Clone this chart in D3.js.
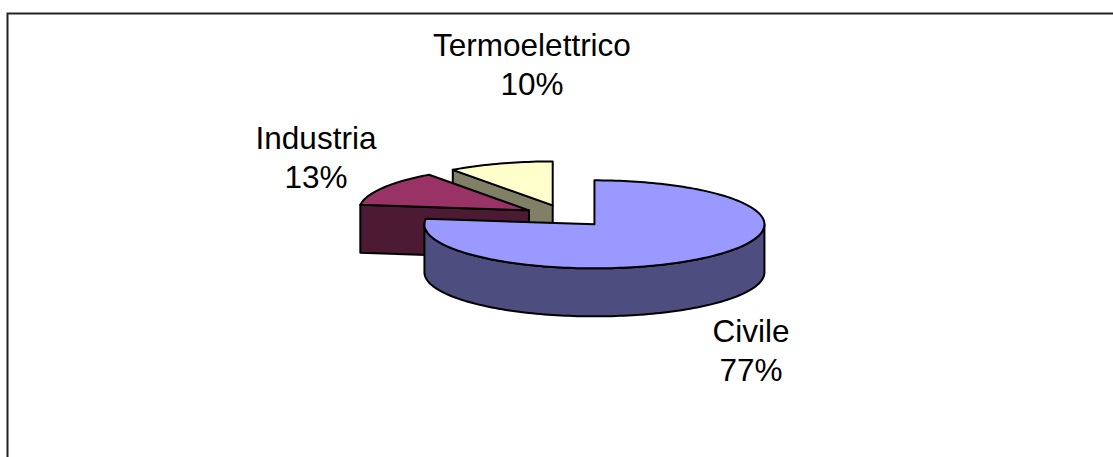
<!DOCTYPE html>
<html>
<head>
<meta charset="utf-8">
<script src="https://cdn.jsdelivr.net/npm/d3@7"></script>
<style>
html, body { margin: 0; padding: 0; background: #fff; }
svg { display: block; }
</style>
</head>
<body>
<div id="graph"></div>
<script>
// data
var categories = ["Civile", "Industria", "Termoelettrico"];
var shares = [77, 13, 10];
var topColors = ["#9999ff", "#993366", "#ffffcc"];
var wallColors = ["#4d4d80", "#4d1a33", "#808066"];

var width = 1113, height = 457;

// pie options
var cx = 566, cy = 216;
var rx = 170, ry = 44, depth = 48, explode = 43;

var svg = d3.select("#graph").append("svg")
	.attr("width", width)
	.attr("height", height);

// chart frame, right and bottom sides are cut off in the original
svg.append("path")
	.attr("d", "M7.5,457V13.5H1113")
	.attr("fill", "none")
	.attr("stroke", "#222")
	.attr("stroke-width", 2);

var pie = d3.pie().sort(null).value(function(d) { return d; });
var arcs = pie(shares);

// angle is clockwise from 12 o'clock, squashed to an ellipse
function project(a, r, ox, oy) {
	return [ox + r * rx * Math.sin(a), oy - r * ry * Math.cos(a)];
}

function rimPoints(a0, a1, ox, oy, dy) {
	var n = Math.max(2, Math.ceil((a1 - a0) * 40)), pts = [];
	d3.range(n + 1).forEach(function(i) {
		var p = project(a0 + (a1 - a0) * i / n, 1, ox, oy);
		pts.push([p[0], p[1] + dy]);
	});
	return pts;
}

var line = d3.line();

// back slices first, the big one sits in front
d3.range(arcs.length - 1, -1, -1).forEach(function(i) {
	var d = arcs[i];
	var mid = (d.startAngle + d.endAngle) / 2;
	var ox = cx + explode * Math.sin(mid);
	var oy = cy - explode * ry / rx * Math.cos(mid);
	var g = svg.append("g").attr("class", "slice");

	function wall(pts) {
		g.append("path")
			.attr("d", line(pts) + "Z")
			.attr("fill", wallColors[i])
			.attr("stroke", "#000")
			.attr("stroke-width", 2)
			.attr("stroke-linejoin", "round");
	}
	function radial(a) {
		var p = project(a, 1, ox, oy);
		wall([[ox, oy], p, [p[0], p[1] + depth], [ox, oy + depth]]);
	}

	if (Math.sin(d.startAngle) < 0) radial(d.startAngle);
	if (Math.sin(d.endAngle) > 0) radial(d.endAngle);

	// outer wall, only the part facing us
	var a0 = Math.max(d.startAngle, Math.PI / 2), a1 = Math.min(d.endAngle, Math.PI * 3 / 2);
	if (a1 > a0) {
		wall(rimPoints(a0, a1, ox, oy, 0).concat(rimPoints(a0, a1, ox, oy, depth).reverse()));
	}

	// top face
	g.append("path")
		.attr("d", line([[ox, oy]].concat(rimPoints(d.startAngle, d.endAngle, ox, oy, 0))) + "Z")
		.attr("fill", topColors[i])
		.attr("stroke", "#000")
		.attr("stroke-width", 2)
		.attr("stroke-linejoin", "round");
});

// labels
var labelPos = [[751, 342], [316, 149], [532, 56]];

var labels = svg.selectAll("text.label")
	.data(categories)
	.enter()
	.append("text")
	.attr("class", "label")
	.attr("text-anchor", "middle")
	.attr("font-family", "'Liberation Sans', Arial, sans-serif")
	.attr("font-size", "31.5px")
	.attr("fill", "#000");

labels.append("tspan")
	.attr("x", function(d, i) { return labelPos[i][0]; })
	.attr("y", function(d, i) { return labelPos[i][1]; })
	.text(function(d) { return d; });

labels.append("tspan")
	.attr("x", function(d, i) { return labelPos[i][0]; })
	.attr("dy", 39)
	.text(function(d, i) { return shares[i] + "%"; });
</script>
</body>
</html>
